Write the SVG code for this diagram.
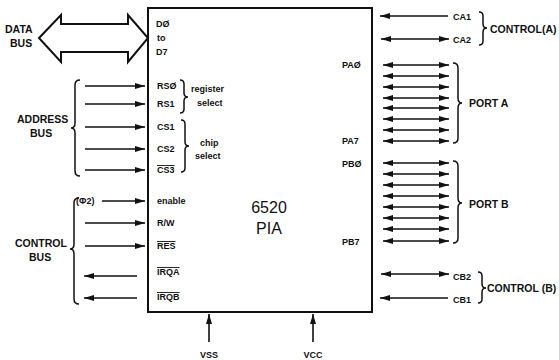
<svg xmlns="http://www.w3.org/2000/svg" width="559" height="360" viewBox="0 0 559 360">
<style>
text{font-family:"Liberation Sans",Arial,sans-serif;font-weight:bold;fill:#111;font-size:9px}
.g{font-size:10.5px}
.big{font-size:16px;font-weight:normal;text-anchor:middle}
.ln{stroke:#111;stroke-width:1.6;fill:none}
.br{stroke:#111;stroke-width:1.5;fill:none}
.ol{text-decoration:overline}
</style>
<defs>
<marker id="ah" viewBox="0 0 10 6" refX="10" refY="3" markerWidth="10" markerHeight="6" markerUnits="userSpaceOnUse" orient="auto-start-reverse">
<path d="M0,0 L10,3 L0,6 z" fill="#111"/>
</marker>
</defs>
<rect width="559" height="360" fill="#fff"/>

<g id="pia">
<rect x="148" y="8" width="224" height="304" fill="none" stroke="#111" stroke-width="2"/>
<text class="big" x="269" y="213">6520</text>
<text class="big" x="269" y="234">PIA</text>
<text x="156" y="27">DØ</text>
<text x="157" y="41">to</text>
<text x="156" y="55">D7</text>
<text x="157" y="89">RSØ</text>
<text x="157" y="107">RS1</text>
<text x="157" y="130">CS1</text>
<text x="157" y="152">CS2</text>
<text class="ol" x="157" y="173">CS3</text>
<text x="157" y="204">enable</text>
<text x="157" y="226">R/W</text>
<text class="ol" x="157" y="249">RES</text>
<text class="ol" x="157" y="275">IRQA</text>
<text class="ol" x="157" y="300">IRQB</text>
<text x="342" y="68">PAØ</text>
<text x="342" y="144">PA7</text>
<text x="342" y="167">PBØ</text>
<text x="342" y="245">PB7</text>
</g>

<g id="databus">
<polygon points="39,38 61,15 61,24 128,24 128,15 148,38 128,62 128,52 61,52 61,62" fill="#fff" stroke="#111" stroke-width="2"/>
<text class="g" x="5" y="33">DATA</text>
<text class="g" x="10" y="47">BUS</text>
</g>

<g id="addressbus">
<text class="g" x="17" y="123">ADDRESS</text>
<text class="g" x="30" y="137">BUS</text>
<text x="191" y="92">register</text>
<text x="197" y="106">select</text>
<text x="200" y="146">chip</text>
<text x="195" y="159">select</text>
</g>

<g id="controlbus">
<text class="g" x="15" y="247">CONTROL</text>
<text class="g" x="29" y="261">BUS</text>
<text x="76" y="204">(Φ2)</text>
</g>

<g id="controlA">
<text x="453" y="20">CA1</text>
<text x="453" y="43">CA2</text>
<text class="g" x="490" y="33">CONTROL(A)</text>
</g>

<g id="portA"><text class="g" x="469" y="107">PORT A</text></g>
<g id="portB"><text class="g" x="469" y="208">PORT B</text></g>

<g id="controlB">
<text x="453" y="280">CB2</text>
<text x="453" y="303">CB1</text>
<text class="g" x="487" y="292">CONTROL (B)</text>
</g>

<g id="power">
<text x="209" y="358" text-anchor="middle">VSS</text>
<text x="313" y="358" text-anchor="middle">VCC</text>
</g>

<g id="connectors">
<line class="ln" x1="85" y1="86" x2="145" y2="86" marker-end="url(#ah)"/>
<line class="ln" x1="85" y1="104" x2="145" y2="104" marker-end="url(#ah)"/>
<line class="ln" x1="85" y1="127" x2="145" y2="127" marker-end="url(#ah)"/>
<line class="ln" x1="85" y1="149" x2="145" y2="149" marker-end="url(#ah)"/>
<line class="ln" x1="85" y1="170" x2="145" y2="170" marker-end="url(#ah)"/>
<line class="ln" x1="102" y1="201" x2="145" y2="201" marker-end="url(#ah)"/>
<line class="ln" x1="85" y1="223" x2="145" y2="223" marker-end="url(#ah)"/>
<line class="ln" x1="85" y1="246" x2="145" y2="246" marker-end="url(#ah)"/>
<line class="ln" x1="137" y1="276" x2="84" y2="276" marker-end="url(#ah)"/>
<line class="ln" x1="137" y1="298" x2="84" y2="298" marker-end="url(#ah)"/>
<line class="ln" x1="448" y1="16" x2="380" y2="16" marker-end="url(#ah)"/>
<line class="ln" x1="381" y1="39" x2="449" y2="39" marker-start="url(#ah)" marker-end="url(#ah)"/>
<line class="ln" x1="383" y1="65" x2="449" y2="65" marker-start="url(#ah)" marker-end="url(#ah)"/>
<line class="ln" x1="383" y1="76" x2="449" y2="76" marker-start="url(#ah)" marker-end="url(#ah)"/>
<line class="ln" x1="383" y1="87" x2="449" y2="87" marker-start="url(#ah)" marker-end="url(#ah)"/>
<line class="ln" x1="383" y1="98" x2="449" y2="98" marker-start="url(#ah)" marker-end="url(#ah)"/>
<line class="ln" x1="383" y1="108" x2="449" y2="108" marker-start="url(#ah)" marker-end="url(#ah)"/>
<line class="ln" x1="383" y1="119" x2="449" y2="119" marker-start="url(#ah)" marker-end="url(#ah)"/>
<line class="ln" x1="383" y1="130" x2="449" y2="130" marker-start="url(#ah)" marker-end="url(#ah)"/>
<line class="ln" x1="383" y1="141" x2="449" y2="141" marker-start="url(#ah)" marker-end="url(#ah)"/>
<line class="ln" x1="383" y1="163" x2="449" y2="163" marker-start="url(#ah)" marker-end="url(#ah)"/>
<line class="ln" x1="383" y1="174" x2="449" y2="174" marker-start="url(#ah)" marker-end="url(#ah)"/>
<line class="ln" x1="383" y1="185" x2="449" y2="185" marker-start="url(#ah)" marker-end="url(#ah)"/>
<line class="ln" x1="383" y1="196" x2="449" y2="196" marker-start="url(#ah)" marker-end="url(#ah)"/>
<line class="ln" x1="383" y1="207" x2="449" y2="207" marker-start="url(#ah)" marker-end="url(#ah)"/>
<line class="ln" x1="383" y1="218" x2="449" y2="218" marker-start="url(#ah)" marker-end="url(#ah)"/>
<line class="ln" x1="383" y1="229" x2="449" y2="229" marker-start="url(#ah)" marker-end="url(#ah)"/>
<line class="ln" x1="383" y1="241" x2="449" y2="241" marker-start="url(#ah)" marker-end="url(#ah)"/>
<line class="ln" x1="381" y1="274" x2="449" y2="274" marker-start="url(#ah)" marker-end="url(#ah)"/>
<line class="ln" x1="448" y1="298" x2="380" y2="298" marker-end="url(#ah)"/>
<line class="ln" x1="209" y1="342" x2="209" y2="314" marker-end="url(#ah)"/>
<line class="ln" x1="313" y1="342" x2="313" y2="314" marker-end="url(#ah)"/>
<path class="br" d="M80,80 Q75,80 75,85 L75,123 Q75,128 71,128 Q75,128 75,133 L75,171 Q75,176 80,176"/>
<path class="br" d="M79,198 Q74,198 74,203 L74,244 Q74,249 70,249 Q74,249 74,254 L74,299 Q74,304 79,304"/>
<path class="br" d="M180,80 Q184,80 184,84 L184,93 Q184,97 188,97 Q184,97 184,101 L184,109 Q184,113 180,113"/>
<path class="br" d="M181,120 Q185,120 185,124 L185,142 Q185,146 189,146 Q185,146 185,150 L185,168 Q185,172 181,172"/>
<path class="br" d="M479,12 Q483,12 483,16 L483,24 Q483,28 487,28 Q483,28 483,32 L483,41 Q483,45 479,45"/>
<path class="br" d="M453,63 Q458,63 458,68 L458,98 Q458,103 462,103 Q458,103 458,108 L458,138 Q458,143 453,143"/>
<path class="br" d="M453,161 Q458,161 458,166 L458,198 Q458,203 462,203 Q458,203 458,208 L458,238 Q458,243 453,243"/>
<path class="br" d="M478,272 Q482,272 482,276 L482,284 Q482,288 486,288 Q482,288 482,292 L482,299 Q482,303 478,303"/>
</g>
</svg>
